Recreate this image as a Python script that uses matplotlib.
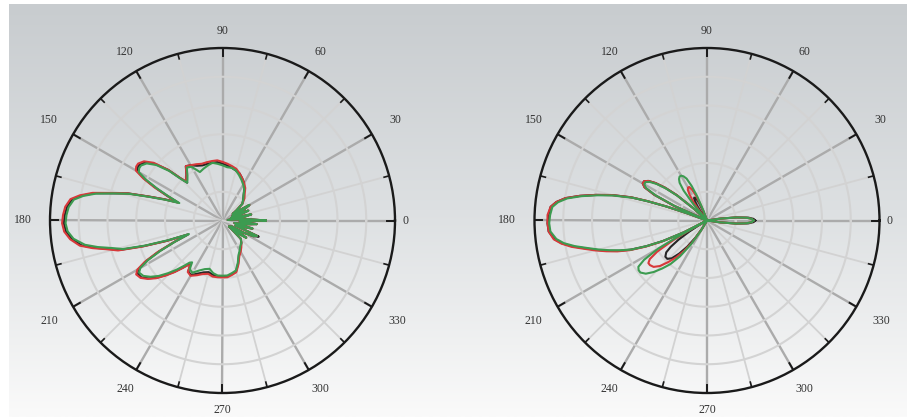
import numpy as np
import matplotlib.pyplot as plt
from matplotlib.colors import LinearSegmentedColormap

# angle grids (deg) and normalised pattern values
left_theta = [0, 3, 6, 9, 12, 15, 18, 21, 24, 27, 30, 33, 36, 40, 45,
              50, 55, 60, 65, 70, 75, 80, 85, 90, 95, 100, 105, 110, 115, 120,
              124, 128, 131, 133, 135, 137, 140, 143, 146,
              148, 150, 152, 154, 156, 158, 160, 162, 164, 166, 168, 170, 172,
              175, 178, 181, 184, 187, 190,
              192, 194, 196, 198, 200, 202, 204, 206, 208, 210, 212,
              215, 218, 221, 224, 227, 230, 232, 234, 236,
              240, 245, 250, 255, 260, 265, 270, 275, 280, 285, 290, 295, 300, 305, 310, 315,
              318, 321, 324, 327, 330, 333, 336, 339, 342, 345, 348, 351, 354, 357, 360]

left_green = [.25, .15, .03, .12, .17, .05, .10, .16, .06, .14, .18, .07, .10, .15, .17,
              .19, .22, .24, .26, .28, .30, .31, .31, .32, .33, .34, .33, .32, .31, .36,
              .37, .33, .31, .30, .34, .42, .50, .55, .57,
              .57, .56, .50, .42, .34, .27, .35, .44, .56, .65, .75, .82, .87,
              .895, .905, .91, .90, .87, .81,
              .74, .66, .60, .47, .33, .21, .30, .40, .49, .55, .57,
              .56, .53, .49, .44, .39, .34, .31, .30, .34,
              .35, .32, .30, .29, .31, .32, .32, .32, .31, .30, .26, .22, .20, .18, .17, .15,
              .05, .12, .17, .06, .14, .20, .22, .08, .12, .18, .07, .14, .20, .10, .25]

left_red = [.25, .14, .03, .12, .17, .05, .10, .16, .06, .14, .18, .07, .10, .15, .18,
            .20, .23, .25, .27, .29, .31, .32, .33, .34, .35, .35, .35, .35, .36, .37,
            .38, .34, .32, .31, .35, .43, .52, .57, .59,
            .59, .58, .52, .44, .35, .28, .36, .45, .57, .66, .77, .84, .89,
            .915, .925, .93, .92, .89, .84,
            .77, .69, .63, .49, .35, .22, .31, .42, .51, .57, .59,
            .58, .55, .51, .46, .41, .36, .33, .32, .36,
            .37, .35, .33, .32, .33, .33, .33, .33, .32, .31, .27, .23, .21, .19, .17, .15,
            .05, .12, .17, .06, .14, .20, .22, .08, .12, .18, .07, .14, .20, .10, .25]

left_black = [.25, .15, .03, .12, .17, .05, .10, .16, .06, .14, .18, .07, .10, .15, .17,
              .19, .22, .25, .27, .29, .30, .31, .32, .33, .34, .34, .34, .34, .35, .37,
              .38, .34, .32, .30, .35, .43, .51, .56, .58,
              .58, .57, .51, .43, .35, .28, .36, .45, .57, .65, .76, .83, .88,
              .905, .915, .92, .91, .88, .83,
              .76, .68, .62, .48, .345, .215, .305, .41, .50, .56, .58,
              .575, .545, .505, .455, .405, .355, .325, .315, .355,
              .365, .34, .32, .31, .32, .325, .325, .325, .315, .305, .265, .225, .205, .185, .17, .15,
              .05, .12, .17, .06, .14, .20, .23, .08, .12, .18, .07, .14, .20, .10, .25]

right_theta = [0, 2, 4, 6, 8, 10,
               108, 110, 112, 114, 116, 118, 120, 122, 124, 126, 128, 130, 132,
               136, 138, 140, 142, 144, 146, 148, 150, 152, 154, 156, 158,
               160, 161, 162, 163, 165, 167, 169, 171, 173, 175, 178, 181,
               184, 187, 189, 191, 193, 195, 197, 199, 201, 203, 205, 207,
               208, 209, 210, 212, 214, 216, 218, 221, 224, 227, 230, 233, 236, 239, 242,
               350, 352, 354, 356, 358, 360]

right_green = [.27, .26, .23, .17, .08, 0,
               0, .06, .15, .22, .27, .29, .30, .30, .29, .27, .22, .12, 0,
               0, .10, .22, .30, .36, .40, .42, .42, .40, .33, .20, 0,
               .12, .25, .36, .45, .56, .65, .74, .82, .87, .90, .91, .915,
               .91, .88, .84, .78, .71, .65, .59, .53, .47, .38, .28, .15,
               0, .20, .33, .43, .48, .49, .49, .47, .43, .38, .33, .26, .17, .07, 0,
               0, .08, .17, .23, .26, .27]

right_red = [.27, .26, .23, .17, .08, 0,
             0, .03, .10, .16, .20, .22, .22, .21, .18, .14, .08, .02, 0,
             0, .10, .23, .31, .37, .41, .43, .43, .41, .34, .21, 0,
             .13, .26, .37, .46, .57, .66, .75, .83, .88, .91, .925, .925,
             .92, .895, .855, .80, .73, .67, .61, .55, .48, .39, .29, .16,
             0, .10, .22, .34, .40, .42, .42, .41, .38, .33, .28, .22, .15, .06, 0,
             0, .08, .17, .23, .26, .27]

right_black = [.28, .27, .24, .17, .08, 0,
               0, .02, .06, .11, .14, .15, .15, .13, .10, .06, .03, 0, 0,
               0, .10, .23, .31, .37, .41, .43, .43, .41, .34, .21, 0,
               .12, .25, .36, .46, .57, .66, .75, .83, .88, .91, .92, .925,
               .92, .89, .85, .79, .72, .66, .60, .54, .47, .38, .28, .15,
               0, 0, .05, .12, .20, .26, .30, .32, .32, .30, .25, .19, .12, .05, 0,
               0, .08, .17, .24, .27, .28]

label_angles = list(range(0, 360, 30))
label_r = [1.06, 1.16, 1.13, 1.10, 1.13, 1.16, 1.16, 1.16, 1.13, 1.10, 1.13, 1.17]

W, H = 907, 417
fig = plt.figure(figsize=(W / 100, H / 100), dpi=100)

# grey gradient backdrop
bg = fig.add_axes([0, 0, 1, 1])
bg.axis('off')
cmap = LinearSegmentedColormap.from_list('bg', ['#c8cccf', '#dde0e2', '#fafafa'])
bg.imshow(np.linspace(0, 1, 256).reshape(-1, 1), aspect='auto', cmap=cmap,
          extent=[9 / W, 1, 0, 1 - 4 / H])
bg.set_xlim(0, 1)
bg.set_ylim(0, 1)


def polar_panel(cx, theta, series):
    R = 172.5
    cy = 220.5
    ax = fig.add_axes([(cx - R) / W, (H - cy - R) / H, 2 * R / W, 2 * R / H],
                      projection='polar')
    ax.set_facecolor('none')
    ax.set_ylim(0, 1)
    ax.set_xticks([])
    ax.set_yticks([])
    ax.grid(False)
    ax.spines['polar'].set_color('#1a1a1a')
    ax.spines['polar'].set_linewidth(1.7)

    t = np.linspace(0, 2 * np.pi, 361)
    for a in range(0, 360, 15):
        th = np.radians(a)
        if a % 30 == 0:
            ax.plot([th, th], [0, 1], color='#ababab', lw=1.7, zorder=1)
            ax.plot([th, th], [0.955, 1], color='#1a1a1a', lw=1.4, zorder=5)
        else:
            ax.plot([th, th], [0, 1], color='#d2d2d2', lw=1.3, zorder=1)
            ax.plot([th, th], [0.97, 1], color='#1a1a1a', lw=1.2, zorder=5)
    for k in range(1, 6):
        ax.plot(t, np.full_like(t, k / 6), color='#d3d3d3', lw=1.5, zorder=2)

    th = np.radians(theta)
    for vals, col in series:
        ax.plot(th, vals, color=col, lw=1.5, zorder=3)

    for a, r in zip(label_angles, label_r):
        ax.text(np.radians(a), r, str(a), ha='center', va='center',
                family='Liberation Serif', fontsize=8.5, color='#333333',
                clip_on=False)
    return ax


polar_panel(222.5, left_theta, [(left_black, '#262626'), (left_red, '#d8383a'),
                                (left_green, '#3c9b50')])
polar_panel(707, right_theta, [(right_black, '#262626'), (right_red, '#d8383a'),
                               (right_green, '#3c9b50')])

fig.savefig('out.png', dpi=100)
